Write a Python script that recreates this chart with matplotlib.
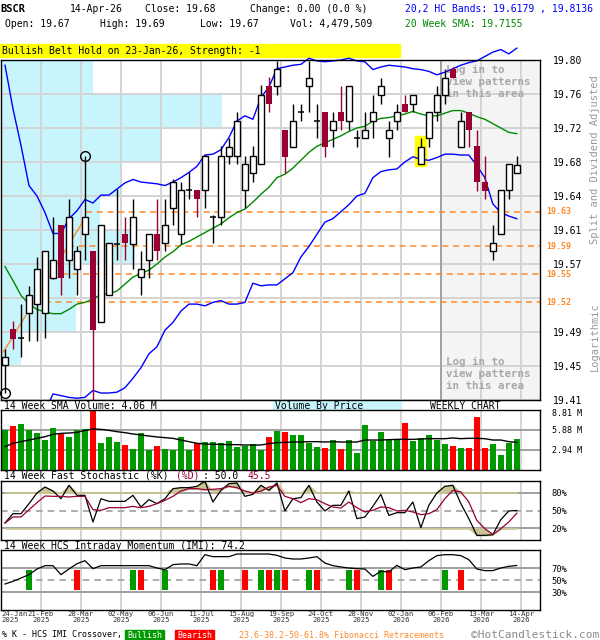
import numpy as np
import matplotlib
matplotlib.use("Agg")
import matplotlib.pyplot as plt
from matplotlib.patches import Rectangle

plt.rcParams["font.family"] = ["DejaVu Sans Mono"]
plt.rcParams["font.size"] = 7

# weekly candles, 24-Jan-2025 .. 14-Apr-2026
opens = [19.450, 19.491, 19.481, 19.510, 19.520, 19.510, 19.550, 19.611, 19.571, 19.560,
         19.600, 19.581, 19.500, 19.530, 19.589, 19.600, 19.589, 19.551, 19.571, 19.600,
         19.590, 19.630, 19.600, 19.651, 19.651, 19.651, 19.620, 19.620, 19.690, 19.690,
         19.651, 19.670, 19.681, 19.770, 19.770, 19.720, 19.700, 19.740, 19.770, 19.730,
         19.740, 19.720, 19.740, 19.730, 19.710, 19.710, 19.730, 19.760, 19.710, 19.730,
         19.750, 19.750, 19.681, 19.710, 19.740, 19.760, 19.790, 19.700, 19.740, 19.701,
         19.660, 19.581, 19.600, 19.651, 19.670]
highs = [19.469, 19.501, 19.520, 19.541, 19.574, 19.581, 19.620, 19.611, 19.641, 19.587,
         19.690, 19.581, 19.611, 19.590, 19.652, 19.620, 19.641, 19.581, 19.600, 19.641,
         19.641, 19.663, 19.660, 19.671, 19.651, 19.691, 19.622, 19.701, 19.710, 19.740,
         19.690, 19.701, 19.771, 19.780, 19.799, 19.720, 19.750, 19.750, 19.799, 19.750,
         19.740, 19.740, 19.770, 19.770, 19.720, 19.740, 19.760, 19.779, 19.730, 19.750,
         19.760, 19.760, 19.710, 19.740, 19.770, 19.790, 19.792, 19.740, 19.740, 19.720,
         19.690, 19.611, 19.651, 19.681, 19.690]
lows = [19.418, 19.469, 19.459, 19.478, 19.478, 19.481, 19.549, 19.530, 19.550, 19.530,
        19.571, 19.400, 19.500, 19.530, 19.571, 19.571, 19.560, 19.530, 19.550, 19.571,
        19.581, 19.611, 19.589, 19.641, 19.620, 19.630, 19.590, 19.611, 19.681, 19.681,
        19.630, 19.660, 19.681, 19.740, 19.760, 19.670, 19.700, 19.730, 19.740, 19.710,
        19.689, 19.700, 19.720, 19.720, 19.700, 19.710, 19.710, 19.750, 19.689, 19.720,
        19.740, 19.740, 19.681, 19.700, 19.730, 19.750, 19.779, 19.700, 19.700, 19.650,
        19.641, 19.571, 19.600, 19.641, 19.670]
closes = [19.459, 19.480, 19.481, 19.530, 19.560, 19.581, 19.571, 19.550, 19.620, 19.581,
          19.620, 19.490, 19.611, 19.590, 19.589, 19.590, 19.620, 19.560, 19.600, 19.581,
          19.611, 19.660, 19.651, 19.651, 19.641, 19.690, 19.620, 19.690, 19.700, 19.730,
          19.681, 19.690, 19.760, 19.750, 19.790, 19.689, 19.730, 19.740, 19.779, 19.730,
          19.700, 19.730, 19.730, 19.770, 19.710, 19.720, 19.740, 19.770, 19.720, 19.740,
          19.740, 19.760, 19.700, 19.740, 19.760, 19.779, 19.779, 19.730, 19.720, 19.660,
          19.650, 19.590, 19.651, 19.681, 19.680]

bb_upper = [19.794, 19.744, 19.702, 19.656, 19.644, 19.625, 19.601, 19.601, 19.618, 19.627,
            19.640, 19.636, 19.645, 19.645, 19.652, 19.659, 19.663, 19.660, 19.659, 19.658,
            19.656, 19.660, 19.665, 19.671, 19.678, 19.691, 19.692, 19.697, 19.711, 19.730,
            19.736, 19.732, 19.757, 19.769, 19.790, 19.792, 19.794, 19.795, 19.802, 19.799,
            19.798, 19.799, 19.800, 19.802, 19.799, 19.798, 19.789, 19.792, 19.794, 19.793,
            19.792, 19.790, 19.789, 19.787, 19.783, 19.786, 19.790, 19.794, 19.797, 19.799,
            19.804, 19.809, 19.812, 19.807, 19.8136]
bb_lower = [19.333, 19.350, 19.359, 19.384, 19.385, 19.396, 19.417, 19.415, 19.413, 19.412,
            19.413, 19.421, 19.418, 19.418, 19.419, 19.424, 19.435, 19.447, 19.463, 19.471,
            19.490, 19.499, 19.512, 19.520, 19.520, 19.518, 19.522, 19.524, 19.520, 19.520,
            19.522, 19.544, 19.541, 19.542, 19.542, 19.549, 19.556, 19.574, 19.586, 19.600,
            19.614, 19.618, 19.626, 19.634, 19.644, 19.647, 19.665, 19.672, 19.674, 19.675,
            19.683, 19.689, 19.686, 19.685, 19.688, 19.692, 19.692, 19.691, 19.691, 19.679,
            19.665, 19.635, 19.625, 19.621, 19.6179]
sma20 = [19.563, 19.547, 19.530, 19.520, 19.514, 19.511, 19.509, 19.509, 19.514, 19.520,
         19.522, 19.526, 19.531, 19.532, 19.535, 19.543, 19.551, 19.555, 19.559, 19.566,
         19.574, 19.580, 19.588, 19.592, 19.597, 19.602, 19.607, 19.612, 19.619, 19.625,
         19.629, 19.637, 19.646, 19.654, 19.665, 19.669, 19.676, 19.685, 19.694, 19.701,
         19.705, 19.709, 19.713, 19.718, 19.722, 19.724, 19.730, 19.733, 19.734, 19.736,
         19.738, 19.741, 19.738, 19.736, 19.736, 19.739, 19.742, 19.742, 19.739, 19.735,
         19.732, 19.727, 19.722, 19.717, 19.7155]

# volume in millions, 14 week SMA of volume
volume = [5.87, 6.46, 6.75, 5.87, 5.43, 4.40, 6.17, 5.38, 4.85, 5.87,
          6.02, 8.81, 3.96, 4.85, 4.11, 3.67, 3.08, 5.43, 2.94, 3.52,
          3.08, 2.94, 4.85, 2.94, 3.96, 4.11, 4.11, 3.96, 4.26, 3.38,
          3.52, 3.82, 2.94, 4.85, 5.73, 5.58, 5.14, 5.14, 3.96, 3.38,
          3.23, 4.40, 3.08, 4.40, 2.50, 6.61, 4.26, 5.58, 4.55, 4.55,
          6.90, 4.26, 4.70, 5.14, 4.40, 3.82, 3.52, 3.23, 3.23, 7.78,
          3.23, 3.82, 2.20, 3.96, 4.48]
vol_sma = [3.43, 3.92, 4.16, 4.40, 4.65, 4.89, 5.24, 5.38, 5.43, 5.53,
           5.82, 6.02, 5.97, 5.82, 5.63, 5.48, 5.29, 5.14, 4.99, 4.85,
           4.75, 4.65, 4.40, 4.16, 3.92, 3.82, 3.77, 3.77, 3.72, 3.72,
           3.67, 3.67, 3.67, 3.87, 4.01, 4.06, 4.11, 4.11, 4.16, 4.16,
           4.11, 4.16, 4.11, 4.11, 4.11, 4.40, 4.40, 4.40, 4.45, 4.50,
           4.50, 4.50, 4.55, 4.60, 4.60, 4.60, 4.70, 4.60, 4.65, 4.65,
           4.60, 4.40, 4.40, 4.16, 4.06]

stoch_k = [28.8, 44.6, 44.6, 61.6, 79.7, 89.8, 83.0, 70.0, 92.7, 75.7,
           75.7, 30.5, 70.0, 65.5, 65.5, 65.5, 75.7, 56.0, 68.4, 61.6,
           70.0, 87.0, 88.7, 88.7, 91.0, 99.4, 64.4, 84.2, 95.5, 96.6,
           74.0, 77.4, 92.7, 84.2, 96.6, 49.2, 70.0, 71.8, 92.7, 64.4,
           49.2, 58.8, 58.8, 83.0, 36.2, 39.0, 57.0, 77.4, 41.8, 46.3,
           46.3, 64.4, 20.9, 58.8, 79.7, 91.0, 92.7, 61.6, 36.2, 7.9,
           7.9, 9.0, 34.5, 49.2, 50.0]
stoch_d = [28.8, 39.0, 39.0, 51.4, 63.3, 74.6, 74.0, 74.0, 72.9, 74.0,
           74.0, 51.4, 50.3, 54.8, 54.8, 54.8, 57.0, 54.8, 57.0, 61.6,
           67.2, 74.0, 83.0, 87.0, 87.0, 85.3, 85.9, 87.0, 91.0, 88.7,
           83.0, 79.7, 83.0, 89.8, 92.7, 74.0, 70.0, 63.3, 70.0, 68.4,
           61.6, 56.0, 54.2, 64.4, 54.8, 47.5, 50.3, 56.0, 54.8, 49.2,
           50.3, 47.5, 43.0, 44.6, 51.4, 70.0, 84.2, 81.4, 64.4, 33.3,
           19.2, 9.6, 19.2, 30.5, 45.5]

imi = [43.3, 47.8, 53.3, 58.9, 68.3, 73.9, 73.9, 58.9, 68.3, 77.2,
       82.2, 68.9, 73.9, 73.9, 73.9, 73.9, 73.9, 73.9, 73.9, 70.0,
       67.2, 75.6, 76.7, 76.7, 73.9, 92.2, 88.9, 88.9, 88.9, 93.3,
       93.3, 93.3, 93.3, 93.3, 91.1, 86.7, 85.0, 85.0, 86.7, 88.9,
       78.3, 73.9, 71.7, 70.0, 68.9, 68.3, 56.1, 64.4, 63.3, 74.4,
       67.2, 70.0, 71.7, 82.2, 90.6, 92.2, 92.2, 90.6, 83.9, 68.3,
       65.6, 65.6, 70.0, 72.8, 74.2]
cross_bull = [3, 16, 20, 27, 32, 34, 38, 43, 47, 55]
cross_bear = [9, 17, 26, 30, 33, 35, 39, 44, 48, 57]

# volume by price, top band first (length in weeks of chart width)
vbp = [11.5, 27.6, 19.9, 15.1, 12.4, 16.8, 9.4, 9.4, 2.5, 0]
price_labels = ["19.80", "19.76", "19.72", "19.68", "19.64", "19.61",
                "19.57", "", "19.49", "19.45", "19.41"]
fib_ratios = [0.236, 0.382, 0.5, 0.618]
fib_labels = ["19.63", "19.59", "19.55", "19.52"]
diag_x = [-0.2, 10.1]
diag_y = [19.465, 19.620]
date_labels = ["24-Jan\n2025", "21-Feb\n2025", "28-Mar\n2025", "02-May\n2025",
               "06-Jun\n2025", "11-Jul\n2025", "15-Aug\n2025", "19-Sep\n2025",
               "24-Oct\n2025", "28-Nov\n2025", "02-Jan\n2026", "06-Feb\n2026",
               "13-Mar\n2026", "14-Apr\n2026"]

DOWN = "#990033"
GRID = "#d4d4d4"
GRAY = "#a0a0a0"
ORANGE = "#ff8a2a"
CYAN = "#c8f4fc"
GREEN = "#009900"
RED = "#ff0000"

W, H = 600, 640


def box(x0, y0, x1, y1):
    return [x0 / W, 1 - y1 / H, (x1 - x0) / W, (y1 - y0) / H]


def fy(y):
    return 1 - y / H


fig = plt.figure(figsize=(6, 6.4), dpi=100)
n = len(closes)
x = np.arange(n)
xmax = 66.9
grid_x = np.arange(-0.5, n, 5)

# ---- price panel
ax = fig.add_axes(box(1, 60, 540, 400))
ax.set_xlim(-0.5, xmax)
ax.set_ylim(19.41, 19.80)
levels = np.linspace(19.80, 19.41, 11)
ax.axvspan(54.5, xmax, color="#f4f4f4", zorder=0)
for b, w in enumerate(vbp):
    if w > 0:
        ax.barh((levels[b] + levels[b + 1]) / 2, w, height=levels[b] - levels[b + 1],
                left=-0.5, color=CYAN, zorder=0.2)
for lv in levels:
    ax.axhline(lv, color=GRID, lw=1.4, zorder=0.5)
for gx in grid_x[1:]:
    ax.axvline(gx, color=GRID, lw=1.4, zorder=0.5)
ax.axvline(54.5, color="#9a9a9a", lw=1.2, zorder=0.6)

# pattern highlight
ax.add_patch(Rectangle((52 - 0.7, lows[52] - 0.003), 1.4, highs[52] - lows[52] + 0.006,
                       color="#ffff00", zorder=1))

for ytxt in [82, 374]:
    ax.text(446 / W, fy(ytxt), "Log in to\nview patterns\nin this area",
            transform=fig.transFigure, color="#a8a8a8", fontsize=7.8,
            fontweight="bold", va="center", ha="left", linespacing=1.25, zorder=1.2)

ax.plot(x, bb_upper, color="#0000ff", lw=1, zorder=2, clip_on=False)
ax.plot(x, bb_lower, color="#0000ff", lw=1, zorder=2)
ax.plot(x, sma20, color="#008800", lw=1, zorder=2)

# fibonacci
fib_low, fib_high = lows[0], highs[10]
ax.plot(diag_x, diag_y, color=ORANGE, lw=1, zorder=1.8)
for r, lab in zip(fib_ratios, fib_labels):
    lv = fib_high - r * (fib_high - fib_low)
    x0 = np.interp(lv, diag_y, diag_x)
    ax.hlines(lv, x0, xmax, colors=ORANGE, linestyles=(0, (4, 3)), lw=1.1, zorder=1.8)
    ax.text(1.011, lv, lab, transform=ax.get_yaxis_transform(), color=ORANGE,
            fontsize=6, fontweight="bold", va="center", ha="left")

# candles
for i in x:
    o, h, l, c = opens[i], highs[i], lows[i], closes[i]
    if c < o:
        ax.vlines(i, l, h, color=DOWN, lw=1.0, zorder=2.5)
        ax.bar(i, o - c, bottom=c, width=0.72, color=DOWN, zorder=3)
    elif c > o:
        ax.vlines(i, l, h, color="black", lw=1.0, zorder=2.5)
        ax.bar(i, c - o, bottom=o, width=0.72, facecolor="white", edgecolor="black",
               lw=1.0, zorder=3)
    else:
        ax.vlines(i, l, h, color="black", lw=1.0, zorder=2.5)
        ax.hlines(o, i - 0.36, i + 0.36, color="black", lw=1.1, zorder=3)

ax.plot(10, highs[10], "o", mfc="none", mec="black", ms=7, mew=1, zorder=4)
ax.plot(0, lows[0], "o", mfc="none", mec="black", ms=7, mew=1, zorder=4, clip_on=False)

ax.set_xticks([])
ax.set_yticks(levels)
ax.set_yticklabels(price_labels)
ax.yaxis.tick_right()
ax.tick_params(axis="y", length=0, pad=9, labelsize=7)

# ---- volume panel
axv = fig.add_axes(box(1, 410, 540, 470))
axv.set_xlim(-0.5, xmax)
axv.set_ylim(0, 8.81)
for gx in grid_x[1:]:
    axv.axvline(gx, color=GRID, lw=1.4, zorder=0)
for lv in [2.94, 5.88]:
    axv.axhline(lv, color=GRAY, lw=1.4, zorder=0.5)
vol_colors = [RED if c < o else GREEN for o, c in zip(opens, closes)]
axv.bar(x, volume, width=0.72, color=vol_colors, zorder=2)
axv.plot(x, vol_sma, color="black", lw=1, zorder=3)
axv.set_xticks([])
axv.set_yticks([2.94, 5.88, 8.5])
axv.set_yticklabels(["2.94 M", "5.88 M", "8.81 M"])
axv.yaxis.tick_right()
axv.tick_params(axis="y", length=0, pad=9, labelsize=6)

# ---- stochastic panel
axs = fig.add_axes(box(1, 481, 540, 540))
axs.set_xlim(-0.5, xmax)
axs.set_ylim(0, 100)
for gx in grid_x[1:]:
    axs.axvline(gx, color=GRID, lw=1.4, zorder=0)
axs.axhline(80, color=GRAY, lw=1.4, zorder=0.5)
axs.axhline(20, color=GRAY, lw=1.4, zorder=0.5)
axs.axhline(50, color=GRAY, lw=1.2, ls=(0, (4, 3)), zorder=0.5)
k = np.array(stoch_k)
d = np.array(stoch_d)
axs.fill_between(x, np.maximum(k, 80), np.maximum(d, 80), color="#c8c494", zorder=1)
axs.fill_between(x, np.minimum(k, 20), np.minimum(d, 20), color="#c8c494", zorder=1)
axs.plot(x, k, color="black", lw=0.9, zorder=2)
axs.plot(x, d, color=DOWN, lw=0.9, zorder=2)
axs.set_xticks([])
axs.set_yticks([20, 50, 80])
axs.set_yticklabels(["20%", "50%", "80%"])
axs.yaxis.tick_right()
axs.tick_params(axis="y", length=0, pad=8, labelsize=6.3)

# ---- IMI panel
axi = fig.add_axes(box(1, 550, 540, 610))
axi.set_xlim(-0.5, xmax)
axi.set_ylim(0, 100)
for gx in grid_x[1:]:
    axi.axvline(gx, color=GRID, lw=1.4, zorder=0)
axi.axhline(70, color=GRAY, lw=1.4, zorder=0.5)
axi.axhline(30, color=GRAY, lw=1.4, zorder=0.5)
axi.axhline(50, color=GRAY, lw=1.2, ls=(0, (4, 3)), zorder=0.5)
axi.bar(cross_bull, 34, bottom=33, width=0.72, color=GREEN, zorder=1)
axi.bar(cross_bear, 34, bottom=33, width=0.72, color=RED, zorder=1)
axi.plot(x, imi, color="black", lw=0.9, zorder=2)
axi.set_yticks([30, 50, 70])
axi.set_yticklabels(["30%", "50%", "70%"])
axi.yaxis.tick_right()
axi.tick_params(axis="y", length=0, pad=8, labelsize=6.3)
axi.set_xticks(grid_x)
axi.set_xticklabels(date_labels)
axi.tick_params(axis="x", length=0, pad=1, labelsize=5.2, colors="#333333")
for lbl in axi.get_xticklabels():
    lbl.set_linespacing(0.95)
axi.get_xticklabels()[0].set_ha("left")

for a in [ax, axv, axs, axi]:
    for s in a.spines.values():
        s.set_color("black")
        s.set_linewidth(1)

# ---- header and titles
fig.text(0, fy(9), "BSCR", fontweight="bold", fontsize=7.5, va="center")
fig.text(70 / W, fy(9), "14-Apr-26", va="center")
fig.text(145 / W, fy(9), "Close: 19.68", va="center")
fig.text(250 / W, fy(9), "Change: 0.00 (0.0 %)", va="center")
fig.text(5 / W, fy(24), "Open: 19.67", va="center")
fig.text(100 / W, fy(24), "High: 19.69", va="center")
fig.text(200 / W, fy(24), "Low: 19.67", va="center")
fig.text(290 / W, fy(24), "Vol: 4,479,509", va="center")
fig.text(405 / W, fy(9), "20,2 HC Bands: 19.6179 , 19.8136", color="#0000ff", va="center")
fig.text(405 / W, fy(24), "20 Week SMA: 19.7155", color="#008800", va="center")

fig.add_artist(Rectangle((0, fy(57)), 400 / W, 13 / H, transform=fig.transFigure,
                         color="#ffff00", zorder=0))
fig.text(2 / W, fy(51), "Bullish Belt Hold on 23-Jan-26, Strength: -1", va="center")

fig.text(595 / W, fy(160), "Split and Dividend Adjusted", rotation=90, color="#999999",
         ha="center", va="center", fontsize=7.5)
fig.text(595 / W, fy(337), "Logarithmic", rotation=90, color="#999999",
         ha="center", va="center", fontsize=7.5)

fig.text(4 / W, fy(406), "14 Week SMA Volume: 4.06 M", va="center")
fig.add_artist(Rectangle((273 / W, fy(411)), 128 / W, 10 / H, transform=fig.transFigure,
                         color=CYAN, zorder=0))
fig.text(275 / W, fy(406), "Volume By Price", va="center")
fig.text(430 / W, fy(406), "WEEKLY CHART", va="center")

fig.text(4 / W, fy(476), "14 Week Fast Stochastic (%K)", va="center")
fig.text(176 / W, fy(476), "(%D)", color=DOWN, va="center")
fig.text(203 / W, fy(476), ": 50.0", va="center")
fig.text(247 / W, fy(476), "45.5", color=DOWN, va="center")
fig.text(4 / W, fy(546), "14 Week HCS Intraday Momentum (IMI): 74.2", va="center")

# ---- legend row
fig.text(2 / W, fy(635), "% K - HCS IMI Crossover,", va="center", fontsize=6)
fig.add_artist(Rectangle((125 / W, fy(640)), 39 / W, 10 / H, transform=fig.transFigure,
                         color=GREEN))
fig.text(144.5 / W, fy(635), "Bullish", color="white", va="center", ha="center", fontsize=6)
fig.add_artist(Rectangle((175 / W, fy(640)), 39 / W, 10 / H, transform=fig.transFigure,
                         color=RED))
fig.text(194.5 / W, fy(635), "Bearish", color="white", va="center", ha="center", fontsize=6)
fig.text(239 / W, fy(635), "23.6-38.2-50-61.8% Fibonacci Retracements", color=ORANGE,
         va="center", fontsize=6)
fig.text(599 / W, fy(635), "\u00a9HotCandlestick.com", color="#8a8a8a", va="center",
         ha="right", fontsize=8)

fig.savefig("out.png", dpi=100)
